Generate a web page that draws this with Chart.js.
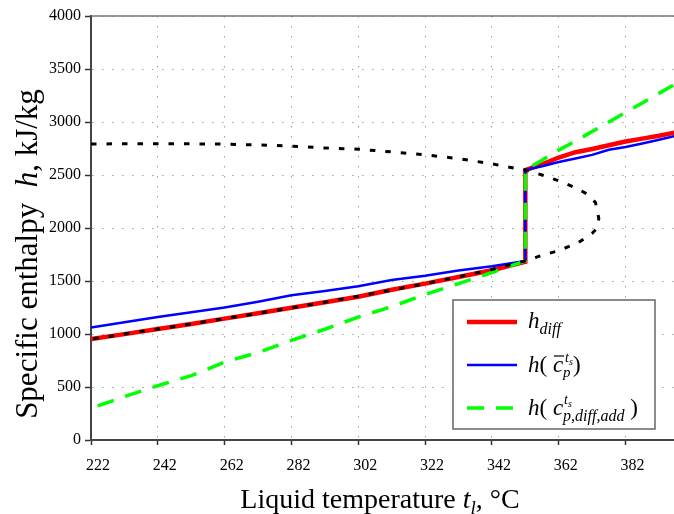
<!DOCTYPE html>
<html>
<head>
<meta charset="utf-8">
<script src="https://cdn.jsdelivr.net/npm/chart.js@4.4.1/dist/chart.umd.min.js"></script>
<style>
  html, body { margin: 0; padding: 0; background: #fff; }
  #wrap { width: 674px; height: 514px; }
</style>
</head>
<body>
<div id="wrap"><canvas id="chart" width="674" height="514"></canvas></div>
<script>
// ---- data ----
var xTicks = [222, 242, 262, 282, 302, 322, 342, 362, 382];

// liquid side (below the jump at 352 C)
var liqT     = [222, 232, 242, 252, 262, 272, 282, 292, 302, 312, 322, 332, 342, 352];
var hDiffLiq = [952, 999, 1047, 1095, 1145, 1195, 1247, 1300, 1352, 1418, 1475, 1537, 1602, 1682];
var hMeanLiq = [1060, 1110, 1160, 1205, 1250, 1305, 1365, 1405, 1450, 1510, 1550, 1600, 1640, 1690];
var addT     = [224, 232, 242, 252, 262, 272, 282, 292, 302, 312, 322, 332, 342, 352];
var hAddLiq  = [321, 410, 512, 607, 735, 825, 940, 1045, 1160, 1258, 1372, 1475, 1580, 1690];

// vapour side (above the jump)
var vapT     = [352, 357, 362, 367, 372, 377, 382, 387, 392, 397];
var hDiffVap = [2547, 2600, 2665, 2715, 2745, 2780, 2816, 2843, 2870, 2901];
var hMeanVap = [2547, 2583, 2623, 2655, 2690, 2738, 2765, 2798, 2833, 2870];
var hAddVap  = [2547, 2640, 2735, 2820, 2910, 3000, 3090, 3180, 3270, 3360];

// saturation dome (vapour branch out, liquid branch back)
var domeT = [222, 232, 242, 252, 262, 272, 282, 292, 302, 312, 322, 332, 342, 349, 352, 357, 362, 367, 370.5, 373, 374,
             373.5, 372, 368, 362, 357, 352, 342, 332, 322, 312, 302, 292, 282, 272, 262, 252, 242, 232, 222];
var domeH = [2792, 2795, 2795, 2794, 2791, 2784, 2772, 2755, 2743, 2718, 2690, 2655, 2605, 2563, 2547, 2500, 2445, 2380, 2320, 2240, 2090,
             2000, 1950, 1865, 1786, 1742, 1690, 1609, 1540, 1475, 1414, 1356, 1300, 1247, 1195, 1145, 1095, 1047, 999, 952];

var SERIF = '"Liberation Serif", "Times New Roman", serif';

function pts(ts, hs) {
    return ts.map(function (t, i) { return { x: t, y: hs[i] }; });
}

// draw a row of text pieces; piece.keep = do not advance the pen
function drawRuns(ctx, x, y, runs) {
    runs.forEach(function (r) {
        ctx.font = (r.it ? 'italic ' : '') + r.size + 'px ' + SERIF;
        ctx.fillText(r.t, x + (r.dx || 0), y + (r.dy || 0));
        if (!r.keep) x += ctx.measureText(r.t).width + (r.dx || 0);
    });
    return x;
}
function runsWidth(ctx, runs) {
    var w = 0;
    runs.forEach(function (r) {
        ctx.font = (r.it ? 'italic ' : '') + r.size + 'px ' + SERIF;
        if (!r.keep) w += ctx.measureText(r.t).width + (r.dx || 0);
    });
    return w;
}

var decorPlugin = {
    id: 'decor',
    afterDraw: function (chart) {
        var ctx = chart.ctx, a = chart.chartArea;
        ctx.save();

        // top frame line
        ctx.strokeStyle = '#777';
        ctx.lineWidth = 1.5;
        ctx.beginPath();
        ctx.moveTo(a.left, a.top);
        ctx.lineTo(a.right, a.top);
        ctx.stroke();

        ctx.fillStyle = '#000';
        ctx.textBaseline = 'alphabetic';
        ctx.textAlign = 'left';

        // x title
        var xr = [
            { t: 'Liquid temperature ', size: 28 },
            { t: 't', size: 28, it: true },
            { t: 'l', size: 19, it: true, dy: 6 },
            { t: ', \u00B0C', size: 28 }
        ];
        var xw = runsWidth(ctx, xr);
        drawRuns(ctx, 380 - xw / 2, 508, xr);

        // y title
        var yr = [
            { t: 'Specific enthalpy  ', size: 31 },
            { t: 'h', size: 31, it: true },
            { t: ', kJ/kg', size: 31 }
        ];
        var yw = runsWidth(ctx, yr);
        ctx.save();
        ctx.translate(37, 254);
        ctx.rotate(-Math.PI / 2);
        drawRuns(ctx, -yw / 2, 0, yr);
        ctx.restore();

        // legend box
        var lx = 453, ly = 300, lw = 202, lh = 129;
        ctx.fillStyle = '#fff';
        ctx.fillRect(lx, ly, lw, lh);
        ctx.strokeStyle = '#666';
        ctx.lineWidth = 1.5;
        ctx.strokeRect(lx, ly, lw, lh);

        var rows = [322, 365, 408];
        ctx.lineCap = 'butt';
        ctx.strokeStyle = '#ff0000'; ctx.lineWidth = 4.5; ctx.setLineDash([]);
        ctx.beginPath(); ctx.moveTo(467, rows[0]); ctx.lineTo(517, rows[0]); ctx.stroke();
        ctx.strokeStyle = '#0000ff'; ctx.lineWidth = 2.5;
        ctx.beginPath(); ctx.moveTo(467, rows[1]); ctx.lineTo(517, rows[1]); ctx.stroke();
        ctx.strokeStyle = '#00ff00'; ctx.lineWidth = 3.5; ctx.setLineDash([17, 12]);
        ctx.beginPath(); ctx.moveTo(467, rows[2]); ctx.lineTo(517, rows[2]); ctx.stroke();
        ctx.setLineDash([]);

        ctx.fillStyle = '#000';
        drawRuns(ctx, 528, 328, [
            { t: 'h', size: 23, it: true },
            { t: 'diff', size: 16, it: true, dy: 6 }
        ]);

        var x2 = drawRuns(ctx, 528, 372, [
            { t: 'h', size: 23, it: true },
            { t: '( ', size: 23 }
        ]);
        ctx.font = 'italic 23px ' + SERIF;
        var cw = ctx.measureText('c').width;
        drawRuns(ctx, x2, 372, [{ t: 'c', size: 23, it: true }]);
        ctx.strokeStyle = '#000'; ctx.lineWidth = 1.2;
        ctx.beginPath(); ctx.moveTo(x2 + 1, 356); ctx.lineTo(x2 + cw + 1, 356); ctx.stroke();
        drawRuns(ctx, x2 + cw, 372, [
            { t: 'p', size: 15, it: true, dy: 5, keep: true },
            { t: 't', size: 14, it: true, dx: 2, dy: -10 },
            { t: 's', size: 10, it: true, dy: -7 },
            { t: ')', size: 23 }
        ]);

        var x3 = drawRuns(ctx, 528, 415, [
            { t: 'h', size: 23, it: true },
            { t: '( ', size: 23 }
        ]);
        ctx.font = 'italic 23px ' + SERIF;
        var cw3 = ctx.measureText('c').width;
        drawRuns(ctx, x3, 415, [{ t: 'c', size: 23, it: true }]);
        drawRuns(ctx, x3 + cw3, 415, [
            { t: 't', size: 14, it: true, dx: 1, dy: -11 },
            { t: 's', size: 10, it: true, dy: -8 }
        ]);
        drawRuns(ctx, x3 + cw3, 415, [
            { t: 'p,diff,add', size: 16, it: true, dy: 6 },
            { t: ' )', size: 23 }
        ]);

        ctx.restore();
    }
};

var gridOpts = {
    color: '#a0a0a0',
    lineWidth: 1,
    tickLength: 5,
    tickColor: '#333',
    tickWidth: 1.5
};
var borderOpts = { display: true, color: '#444', width: 2, dash: [1.5, 8.5] };

new Chart(document.getElementById('chart'), {
    type: 'line',
    data: {
        datasets: [
            {
                label: 'dome',
                data: pts(domeT, domeH),
                borderColor: '#000',
                borderWidth: 3,
                borderDash: [5.5, 10],
                pointRadius: 0,
                fill: false,
                tension: 0,
                order: 0
            },
            {
                label: 'h add',
                data: pts(addT.concat(vapT), hAddLiq.concat(hAddVap)),
                borderColor: '#00ff00',
                borderWidth: 3.5,
                borderDash: [17, 12],
                pointRadius: 0,
                fill: false,
                tension: 0,
                order: 1
            },
            {
                label: 'h mean',
                data: pts(liqT.concat(vapT), hMeanLiq.concat(hMeanVap)),
                borderColor: '#0000ff',
                borderWidth: 2.5,
                pointRadius: 0,
                fill: false,
                tension: 0,
                order: 2
            },
            {
                label: 'h diff',
                data: pts(liqT.concat(vapT), hDiffLiq.concat(hDiffVap)),
                borderColor: '#ff0000',
                borderWidth: 4.5,
                pointRadius: 0,
                fill: false,
                tension: 0,
                order: 3
            }
        ]
    },
    options: {
        responsive: false,
        animation: false,
        events: [],
        layout: { padding: { left: 0, right: 0, top: 16, bottom: 0 } },
        plugins: {
            legend: { display: false },
            tooltip: { enabled: false }
        },
        scales: {
            x: {
                type: 'linear',
                min: 222,
                max: 396.5,
                afterBuildTicks: function (scale) {
                    scale.ticks = xTicks.map(function (v) { return { value: v }; });
                },
                afterFit: function (scale) { scale.height = 74; },
                ticks: {
                    color: '#000',
                    font: { family: SERIF, size: 16 },
                    padding: 11,
                    labelOffset: 7,
                    maxRotation: 0,
                    autoSkip: false,
                    callback: function (v) { return String(v); }
                },
                grid: gridOpts,
                border: borderOpts
            },
            y: {
                type: 'linear',
                min: 0,
                max: 4000,
                afterFit: function (scale) { scale.width = 91; },
                ticks: {
                    stepSize: 500,
                    color: '#000',
                    font: { family: SERIF, size: 16 },
                    padding: 4,
                    callback: function (v) { return String(v); }
                },
                grid: Object.assign({}, gridOpts, { tickLength: 6 }),
                border: borderOpts
            }
        }
    },
    plugins: [decorPlugin]
});
</script>
</body>
</html>
